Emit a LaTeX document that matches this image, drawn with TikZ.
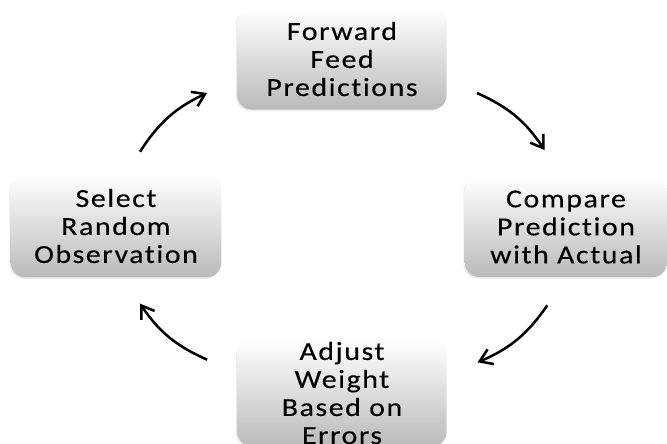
\documentclass[tikz,border=0pt]{standalone}
\usepackage{fontspec}
\setmainfont{Carlito}[FakeStretch=1.15,LetterSpace=6,Ligatures={NoCommon},FakeBold=0.25]
\usetikzlibrary{arrows.meta}
\usetikzlibrary{shadows}
\usetikzlibrary{positioning}

\begin{document}
\begin{tikzpicture}[x=0.75pt,y=-0.75pt,
			stage/.style={rectangle,rounded corners=11pt,top color=white,bottom color=black!27,
				minimum width=157pt,minimum height=76pt,inner sep=0pt,align=center,
				font=\fontsize{19.5}{21}\selectfont,
				drop shadow={opacity=0.15,shadow xshift=-1pt,shadow yshift=-1.2pt}},
			cyc/.style={-{Straight Barb[length=9pt,width=12pt]},line width=1.9pt,bend left=16}]
			\useasboundingbox (0,0) rectangle (667,443);
			\clip (0,0) rectangle (667,443);
			
			\node[stage] (fwd) at (342,59) {Forward\\Feed\\Predictions};
			\node[stage,minimum width=152pt,minimum height=75pt] (cmp) at (566,227) {Compare\\Prediction\\with Actual};
			\node[stage,minimum height=80pt] (adj) at (342,393) {Adjust\\Weight\\Based on\\Errors};
			\node[stage,minimum width=158pt,minimum height=77pt] (sel) at (116,226) {Select\\Random\\Observation};
			
			%arrows round the cycle
			\draw[cyc] ([xshift=18pt,yshift=17pt]sel.north) to ([xshift=-22.5pt,yshift=-25.5pt]fwd.west);
			\draw[cyc] ([xshift=22.5pt,yshift=-25.5pt]fwd.east) to ([xshift=-16pt,yshift=20pt]cmp.north);
			\draw[cyc] ([xshift=-14pt,yshift=-21pt]cmp.south) to ([xshift=23pt,yshift=23pt]adj.east);
			\draw[cyc] ([xshift=-22.5pt,yshift=25pt]adj.west) to ([xshift=18pt,yshift=-19.5pt]sel.south);
		\end{tikzpicture}
\end{document}
